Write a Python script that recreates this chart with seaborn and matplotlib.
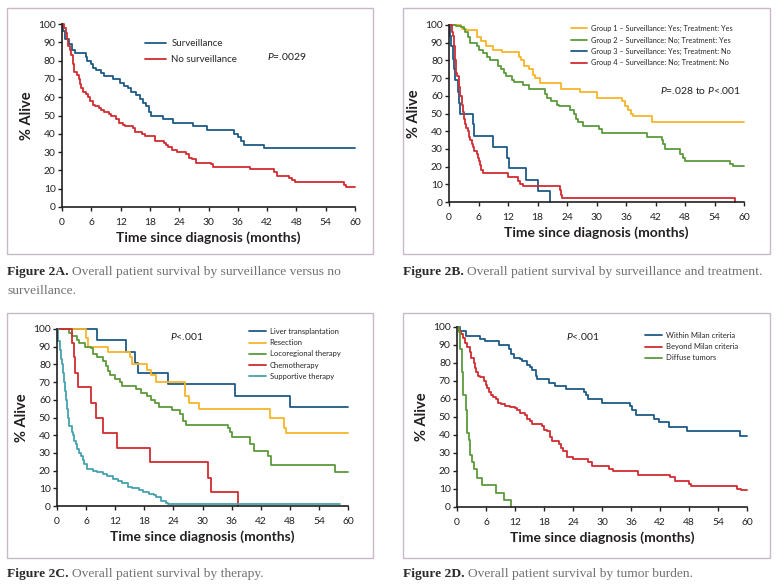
# km_survival_figure.py
import pandas as pd
import matplotlib.pyplot as plt
import seaborn as sns
from matplotlib.lines import Line2D
from matplotlib.patches import Rectangle

# Panel A - surveillance vs no surveillance
a_surv_t = [0, 0.3, 0.7, 1.5, 2.0, 2.6, 4.9, 5.2, 5.9, 6.3, 7.0, 8.0, 8.6, 10.5, 11.8, 12.6, 13.6, 14.2,
            15.2, 16.0, 16.5, 17.2, 17.8, 18.3, 20.6, 22.7, 26.8, 29.7, 35.3, 36.0, 36.6, 37.2, 41.4, 60]
a_surv_s = [100, 96, 92, 89, 86, 84, 82, 80, 78, 76, 75, 73, 71.5, 70, 68, 66, 65, 63,
            61, 59, 57, 55, 52, 50, 48, 46, 44, 42, 40, 38, 36, 34, 32.5, 32.5]
a_nosurv_t = [0, 0.5, 0.8, 1.0, 1.2, 1.6, 1.9, 2.2, 2.5, 3.0, 3.4, 3.6, 3.9, 4.3, 5.0, 5.4, 5.8, 6.3,
              6.7, 7.5, 8.0, 8.5, 9.6, 10.1, 11.0, 11.6, 12.5, 13.0, 14.5, 15.0, 16.3, 17.0, 19.0,
              20.8, 21.2, 21.8, 22.6, 23.5, 25.3, 26.0, 26.7, 27.5, 30.5, 31.0, 38.5, 42.0, 43.5,
              44.0, 46.5, 47.2, 47.8, 57.7, 58.2, 60]
a_nosurv_s = [100, 98, 95, 92, 88, 86, 83, 78, 74, 72, 70, 67, 65, 63, 62, 60, 58, 56,
              55, 54, 53, 52, 51, 50, 48, 46, 45, 44, 43, 41, 40, 39, 36,
              35, 34, 33, 31, 30, 29, 27, 26, 24, 23.5, 22, 21, 20.5, 19,
              17, 16, 15, 13.5, 12, 11, 11]
a_labels = ["Surveillance", "No surveillance"]

# Panel B - surveillance and treatment groups
b_g1_t = [0, 2.5, 2.7, 3.5, 5.6, 6.5, 7.5, 9.0, 10.8, 14.2, 14.6, 15.3, 16.2, 17.0, 17.5, 18.6,
          22.7, 26.7, 30.0, 35.2, 35.8, 36.5, 37.0, 37.5, 41.3, 60]
b_g1_s = [100, 99, 98, 97, 93, 91, 88, 86, 84.5, 82, 80, 77, 75, 72, 70, 67,
          64, 62, 59, 57, 54, 52, 50, 48.5, 45, 45]
b_g2_t = [0, 1.5, 2.5, 3.0, 3.3, 3.8, 4.3, 5.6, 6.2, 7.0, 7.7, 8.3, 10.0, 10.6, 11.2, 11.6, 12.8,
          13.3, 15.0, 16.2, 19.5, 20.0, 20.8, 22.0, 22.4, 24.6, 25.5, 25.9, 26.3, 27.3, 30.6,
          31.2, 40.2, 43.3, 43.6, 44.0, 47.0, 47.5, 48.0, 57.2, 57.8, 60]
b_g2_s = [100, 99.5, 99, 98, 96, 93, 90, 88, 86, 84, 82, 80, 77, 75, 73, 71, 69,
          68, 66, 64, 61, 59, 57, 55, 54, 52, 50, 47, 45, 43, 41,
          39, 37, 35, 33, 30, 27, 25, 23, 21.5, 20.5, 20.5]
b_g3_t = [0, 0.2, 0.5, 0.8, 1.0, 1.3, 1.9, 2.1, 2.3, 4.8, 5.0, 9.0, 11.8, 12.3, 15.7, 18.0, 20.5]
b_g3_s = [100, 94, 88, 81, 75, 69, 62, 56, 50, 44, 37.5, 31, 25, 19, 12.5, 6, 0]
b_g4_t = [0, 0.6, 0.9, 1.1, 1.3, 1.5, 1.7, 2.1, 2.3, 2.6, 2.8, 3.0, 3.2, 3.5, 3.8, 4.0, 4.3, 4.6,
          4.8, 5.1, 5.6, 5.9, 6.1, 6.3, 6.5, 6.9, 12.0, 14.0, 14.5, 15.0, 22.5, 22.7, 23.0, 58.2]
b_g4_s = [100, 96, 94, 88, 80, 73, 71, 65, 60, 55, 51, 47, 44, 42, 40, 37, 35, 33,
          31, 29, 27, 25, 23, 21, 18, 16.5, 14, 12, 10, 9, 7, 4, 2, 0]
b_labels = ["Group 1 \u2013 Surveillance: Yes; Treatment: Yes",
            "Group 2 \u2013 Surveillance: No; Treatment: Yes",
            "Group 3 \u2013 Surveillance: Yes; Treatment: No",
            "Group 4 \u2013 Surveillance: No; Treatment: No"]

# Panel C - therapy
c_lt_t = [0, 8.3, 14.3, 16.1, 16.7, 22.8, 36.8, 48.0, 60]
c_lt_s = [100, 94, 87, 81, 75, 69, 62, 56, 56]
c_res_t = [0, 5.9, 6.3, 10.5, 15.1, 15.5, 18.5, 19.3, 20.4, 26.3, 27.3, 29.3, 44.0, 46.9, 47.2, 60]
c_res_s = [100, 95, 90, 87, 84, 80, 77, 74, 70, 62, 58, 55, 50, 44, 41, 41]
c_loco_t = [0, 2.4, 3.0, 4.2, 4.5, 5.8, 7.0, 7.5, 8.2, 9.5, 10.1, 10.5, 11.0, 12.0, 13.0, 13.5,
            16.3, 17.3, 18.6, 19.3, 20.3, 21.0, 23.8, 25.3, 25.9, 26.7, 35.2, 35.6, 36.0, 39.7,
            40.6, 43.5, 44.2, 57.3, 60]
c_loco_s = [100, 98, 96, 94, 92, 90, 89, 86, 84, 82, 79, 76, 74, 72, 70, 68,
            66, 64, 62, 60, 58, 56, 54, 52, 48, 46, 44, 42, 39, 35,
            31, 28, 23, 19, 19]
c_chemo_t = [0, 3.0, 3.6, 3.8, 4.3, 7.0, 8.1, 9.4, 12.3, 19.1, 31.1, 31.7, 37.3]
c_chemo_s = [100, 92, 84, 75, 67, 58, 50, 41, 33, 25, 16, 8, 0]
c_supp_t = [0, 0.3, 0.6, 0.8, 1.0, 1.2, 1.4, 1.6, 1.8, 2.0, 2.3, 2.5, 3.0, 3.3, 3.6, 3.9, 4.2, 4.5,
            5.0, 5.3, 5.6, 6.1, 7.5, 8.3, 9.5, 10.4, 11.5, 12.5, 13.5, 14.6, 15.5, 17.0, 17.8,
            19.0, 20.0, 20.5, 21.5, 22.4, 22.8, 58.3]
c_supp_s = [100, 93, 88, 83, 80, 75, 70, 65, 60, 55, 50, 45, 42, 40, 37, 35, 32, 30,
            28, 26, 24, 21, 20, 19, 18, 17, 15.5, 14, 13, 11, 10, 9, 8,
            7, 6, 5, 3, 1.5, 1, 1]
c_labels = ["Liver transplantation", "Resection", "Locoregional therapy",
            "Chemotherapy", "Supportive therapy"]

# Panel D - tumor burden
d_within_t = [0, 0.6, 1.9, 4.7, 5.8, 8.7, 10.8, 11.2, 11.8, 13.0, 13.5, 14.4, 15.0, 15.6, 16.3,
              16.6, 19.0, 20.2, 22.6, 26.3, 26.6, 27.0, 30.0, 35.7, 36.3, 37.0, 40.8, 41.7,
              43.8, 47.5, 58.5, 60]
d_within_s = [100, 98, 95, 93.5, 92, 90, 88, 85, 83, 82, 81, 79, 78, 76, 73,
              71, 69, 67, 65.5, 64, 62, 60, 58, 56, 54, 51, 49, 47,
              44.5, 42.5, 39.5, 39.5]
d_beyond_t = [0, 0.5, 0.9, 1.2, 1.6, 2.1, 2.6, 2.9, 3.6, 3.8, 4.0, 4.4, 4.8, 5.5, 5.9, 6.2, 6.6,
              7.0, 7.5, 8.0, 8.5, 9.0, 10.0, 11.0, 12.0, 12.5, 13.0, 14.0, 14.5, 15.0, 15.5,
              17.5, 18.0, 18.6, 19.2, 19.6, 21.0, 21.5, 22.0, 22.7, 24.0, 27.0, 28.0, 31.5,
              32.3, 37.5, 44.0, 45.0, 48.0, 48.4, 58.0, 58.7, 60]
d_beyond_s = [100, 98, 96, 94, 91, 89, 86, 83, 80, 77, 75, 73, 72, 70, 68, 66, 64,
              62, 61, 60, 58, 57, 56, 55.5, 55, 54, 52, 51, 49, 48, 46,
              45, 43, 42, 39, 36.5, 35, 33, 31, 28, 26.5, 25, 23, 21,
              20, 18, 16.5, 14.5, 13, 11.5, 10, 9.5, 9.5]
d_diffuse_t = [0, 0.4, 0.7, 1.0, 1.2, 1.8, 2.1, 2.5, 2.7, 3.2, 3.6, 4.2, 5.1, 8.1, 9.7, 11.2]
d_diffuse_s = [100, 97, 88, 75, 62, 54, 41, 37, 29, 25, 21, 16, 12, 8, 4, 0]
d_labels = ["Within Milan criteria", "Beyond Milan criteria", "Diffuse tumors"]

BLUE = "#1c5a87"
RED = "#d12c31"
YELLOW = "#f7b52a"
GREEN = "#5c9a3b"
TEAL = "#45a2ad"
INK = "#231f20"
BOX = "#cbb8cd"

W, H = 777, 586
CAP_SIZE = 9.7


def fx(px):
    return px / W


def fy(py):
    return 1 - py / H


def make_frame(curves, labels):
    """Stack the (time, survival) lists into one long table."""
    frames = []
    for (t, s), lab in zip(curves, labels):
        frames.append(pd.DataFrame({"months": t, "alive": s, "group": lab}))
    return pd.concat(frames, ignore_index=True)


def km_panel(fig, box, df, labels, colors, legend_at, leg_size, leg_gap, p_text, p_at):
    x0, y0, x1, y1 = box
    ax = fig.add_axes([fx(x0), fy(y1), fx(x1) - fx(x0), fy(y0) - fy(y1)])
    sns.lineplot(data=df, x="months", y="alive", hue="group", hue_order=labels,
                 palette=colors, estimator=None, sort=False, drawstyle="steps-post",
                 linewidth=1.3, legend=False, ax=ax, clip_on=False)
    ax.set_xlim(0, 60)
    ax.set_ylim(0, 100)
    ax.set_xticks(range(0, 61, 6))
    ax.set_yticks(range(0, 101, 10))
    sns.despine(ax=ax)
    for side in ["left", "bottom"]:
        ax.spines[side].set_color(INK)
        ax.spines[side].set_linewidth(1.2)
    ax.tick_params(length=3, width=1, colors=INK, labelsize=7.4)
    ax.tick_params(axis="x", pad=5)
    ax.tick_params(axis="y", pad=1.5)
    ax.set_xlabel("Time since diagnosis (months)", fontsize=10, fontweight="bold",
                  color=INK, labelpad=3)
    ax.set_ylabel("% Alive", fontsize=10.5, fontweight="bold", color=INK, labelpad=3)
    ax.set_facecolor("none")

    handles = [Line2D([], [], color=c, lw=1.3) for c in colors]
    ax.legend(handles, labels, frameon=False, fontsize=leg_size, loc="upper left",
              bbox_to_anchor=(fx(legend_at[0]), fy(legend_at[1])),
              bbox_transform=fig.transFigure, borderpad=0, borderaxespad=0,
              handlelength=2.2, handletextpad=0.5, labelspacing=leg_gap)
    fig.text(fx(p_at[0]), fy(p_at[1]), p_text, fontsize=7.5, color=INK, va="center")
    return ax


def caption(fig, x, y, tag, text, renderer):
    t = fig.text(fx(x), fy(y), tag, fontsize=CAP_SIZE, fontweight="bold", color="#2b2b2b",
                 family="Liberation Serif", va="center")
    bb = t.get_window_extent(renderer)
    fig.text(bb.x1 / fig.dpi / fig.get_figwidth() + 0.004, fy(y), text, fontsize=CAP_SIZE,
             color="#707070", family="Liberation Serif", va="center")


def main():
    sns.set_theme(style="ticks")
    plt.rcParams["font.family"] = ["Lato", "DejaVu Sans"]
    plt.rcParams["mathtext.fontset"] = "custom"
    plt.rcParams["mathtext.it"] = "Lato:italic"
    plt.rcParams["mathtext.rm"] = "Lato"

    fig = plt.figure(figsize=(W / 100, H / 100), dpi=100)
    fig.patch.set_facecolor("white")

    # panel frames
    for bx in [(7, 8, 373, 254), (403, 8, 770, 254), (7, 313, 373, 558), (403, 313, 770, 558)]:
        fig.patches.append(Rectangle((fx(bx[0]), fy(bx[3])), fx(bx[2]) - fx(bx[0]),
                                     fy(bx[1]) - fy(bx[3]), transform=fig.transFigure,
                                     fill=False, ec=BOX, lw=1.0))

    df_a = make_frame([(a_surv_t, a_surv_s), (a_nosurv_t, a_nosurv_s)], a_labels)
    km_panel(fig, (62, 24, 355, 207), df_a, a_labels, [BLUE, RED],
             (145, 39), 7, 0.75, r"$P$=.0029", (267, 57))

    df_b = make_frame([(b_g1_t, b_g1_s), (b_g2_t, b_g2_s), (b_g3_t, b_g3_s), (b_g4_t, b_g4_s)],
                      b_labels)
    km_panel(fig, (449, 25, 744, 202), df_b, b_labels, [YELLOW, GREEN, BLUE, RED],
             (571, 25), 5.3, 0.6, r"$P$=.028 to $P$<.001", (660, 90))

    df_c = make_frame([(c_lt_t, c_lt_s), (c_res_t, c_res_s), (c_loco_t, c_loco_s),
                       (c_chemo_t, c_chemo_s), (c_supp_t, c_supp_s)], c_labels)
    km_panel(fig, (57, 329, 348, 506), df_c, c_labels, [BLUE, YELLOW, GREEN, RED, TEAL],
             (249, 328), 5.5, 0.55, r"$P$<.001", (170, 337))

    df_d = make_frame([(d_within_t, d_within_s), (d_beyond_t, d_beyond_s),
                       (d_diffuse_t, d_diffuse_s)], d_labels)
    km_panel(fig, (457, 327, 747, 507), df_d, d_labels, [BLUE, RED, GREEN],
             (645, 332), 5.5, 0.55, r"$P$<.001", (566, 337))

    renderer = fig.canvas.get_renderer()
    caption(fig, 7, 272, "Figure 2A.", "Overall patient survival by surveillance versus no", renderer)
    fig.text(fx(7), fy(291), "surveillance.", fontsize=CAP_SIZE, color="#707070",
             family="Liberation Serif", va="center")
    caption(fig, 403, 272, "Figure 2B.", "Overall patient survival by surveillance and treatment.",
            renderer)
    caption(fig, 7, 574, "Figure 2C.", "Overall patient survival by therapy.", renderer)
    caption(fig, 403, 574, "Figure 2D.", "Overall patient survival by tumor burden.", renderer)

    fig.savefig("out.png", dpi=100)
    plt.close(fig)


if __name__ == "__main__":
    main()
